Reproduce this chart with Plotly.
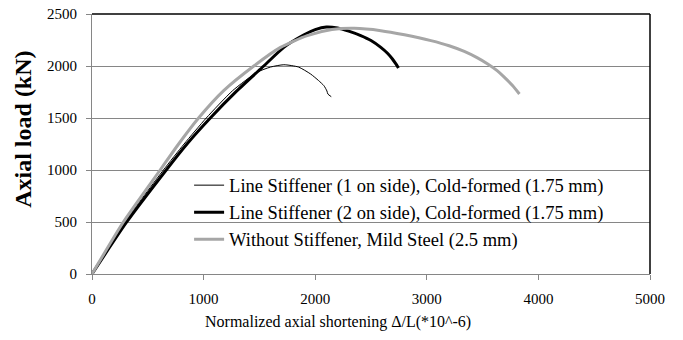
import plotly.graph_objects as go

# Series data
names = [
    "Line Stiffener (1 on side), Cold-formed (1.75 mm)",
    "Line Stiffener (2 on side), Cold-formed (1.75 mm)",
    "Without Stiffener, Mild Steel (2.5 mm)",
]

s1_x = [0, 295, 640, 825, 1024, 1260, 1480, 1600, 1719, 1850, 1959, 2030, 2078, 2105, 2114, 2144]
s1_y = [0, 500, 1000, 1250, 1500, 1763, 1940, 1990, 2012, 1990, 1923, 1860, 1811, 1760, 1730, 1705]

s2_x = [0, 311, 665, 851, 1060, 1300, 1539, 1719, 1900, 2000, 2100, 2200, 2300, 2408, 2500, 2588, 2650, 2692, 2720, 2746]
s2_y = [0, 500, 1000, 1250, 1500, 1763, 2000, 2179, 2300, 2350, 2375, 2365, 2335, 2292, 2245, 2179, 2120, 2067, 2025, 1981]

s3_x = [0, 281, 611, 776, 955, 1180, 1450, 1689, 1929, 2150, 2350, 2588, 2800, 3037, 3200, 3336, 3450, 3546, 3630, 3696, 3770, 3830]
s3_y = [0, 500, 1000, 1250, 1500, 1763, 2000, 2179, 2292, 2350, 2362, 2340, 2300, 2244, 2195, 2140, 2080, 2019, 1955, 1891, 1810, 1731]

x_ticks = [0, 1000, 2000, 3000, 4000, 5000]
y_ticks = [0, 500, 1000, 1500, 2000, 2500]

FONT = "Liberation Serif, Times New Roman, serif"

fig = go.Figure()
fig.add_trace(go.Scatter(x=s1_x, y=s1_y, mode="lines", name=names[0],
                         line=dict(color="#000000", width=1, shape="spline", smoothing=0.6)))
fig.add_trace(go.Scatter(x=s2_x, y=s2_y, mode="lines", name=names[1],
                         line=dict(color="#000000", width=3, shape="spline", smoothing=0.6)))
fig.add_trace(go.Scatter(x=s3_x, y=s3_y, mode="lines", name=names[2],
                         line=dict(color="#A6A6A6", width=3, shape="spline", smoothing=0.6)))

fig.update_layout(
    width=683, height=340,
    margin=dict(l=92, r=33, t=14, b=66),
    paper_bgcolor="white", plot_bgcolor="white",
    font=dict(family=FONT, color="#000000", size=15),
    showlegend=True,
    legend=dict(x=0.174, y=0.413, xanchor="left", yanchor="top",
                bgcolor="rgba(0,0,0,0)", font=dict(family=FONT, size=18.5, color="#000000"),
                tracegroupgap=0, itemwidth=30),
    xaxis=dict(range=[0, 5000], tickvals=x_ticks, ticktext=[str(v) for v in x_ticks],
               showgrid=False, zeroline=False, showline=True, linecolor="#868686", linewidth=1,
               ticks="outside", ticklen=5, tickcolor="#868686", ticklabelstandoff=6,
               ticklabeloverflow="allow", automargin=False,
               tickfont=dict(family=FONT, size=15, color="#000000")),
    yaxis=dict(range=[0, 2500], tickvals=y_ticks, ticktext=[str(v) for v in y_ticks],
               showgrid=True, gridcolor="#868686", gridwidth=1, zeroline=False,
               showline=True, linecolor="#868686", linewidth=1,
               ticks="outside", ticklen=5, tickcolor="#868686", ticklabelstandoff=6,
               ticklabeloverflow="allow", automargin=False,
               tickfont=dict(family=FONT, size=15, color="#000000")),
    annotations=[
        dict(text="<b>Axial load (kN)</b>", xref="paper", yref="paper",
             x=-0.123, y=0.556, xanchor="center", yanchor="middle", textangle=-90,
             showarrow=False, font=dict(family=FONT, size=24, color="#000000")),
        dict(text="Normalized axial shortening Δ/L(*10^-6)", xref="paper", yref="paper",
             x=0.441, y=-0.185, xanchor="center", yanchor="middle",
             showarrow=False, font=dict(family=FONT, size=16, color="#000000")),
    ],
    shapes=[
        dict(type="line", xref="paper", yref="paper", x0=0, x1=1, y0=1, y1=1,
             line=dict(color="#000000", width=1.5)),
        dict(type="line", xref="paper", yref="paper", x0=1, x1=1, y0=0, y1=1,
             line=dict(color="#000000", width=1.5)),
    ],
)

fig.write_html("out.html", config={"displayModeBar": False},
               post_script="document.body.style.margin='0';")
